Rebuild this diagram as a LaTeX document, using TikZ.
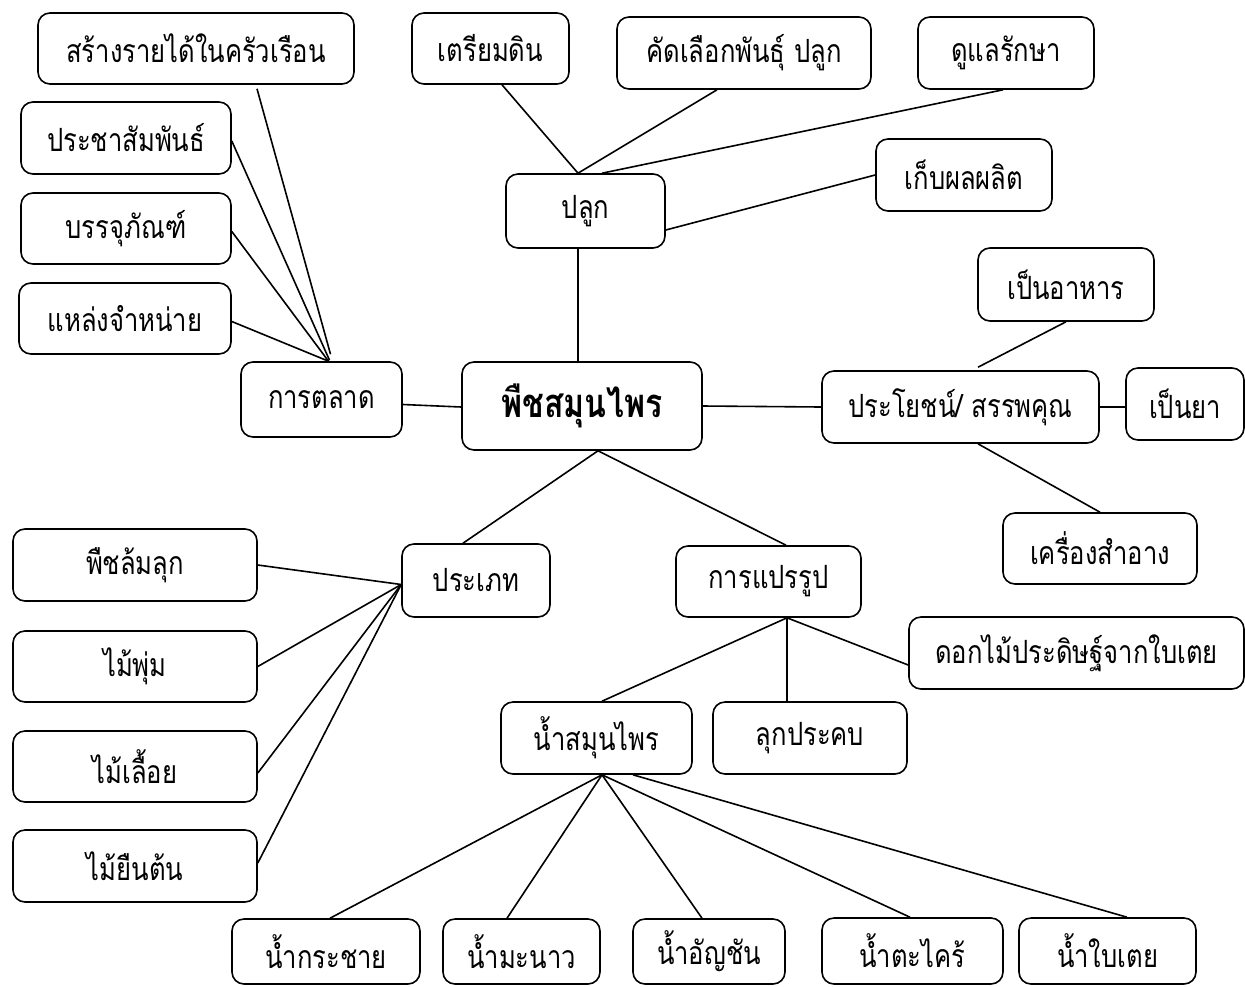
\documentclass[tikz,border=0pt]{standalone}
\usepackage{fontspec}
\newfontfamily\thaifont[Script=Thai,FakeStretch=0.8]{Loma}
\usetikzlibrary{calc}
\begin{document}
\begin{tikzpicture}[x=1pt,y=-1pt,
  box/.style={draw, line width=1.6pt, rounded corners=12pt, inner sep=0pt, align=center,
    font=\thaifont\fontsize{32}{36}\selectfont},
  ln/.style={line width=1.6pt}]
\useasboundingbox (0,0) rectangle (1245,986);
% nodes
\node[box, minimum width=316pt, minimum height=71pt] (income) at (196,48.5) {สร้างรายได้ในครัวเรือน};
\node[box, minimum width=210pt, minimum height=72pt] (pr) at (126,138) {ประชาสัมพันธ์};
\node[box, minimum width=210pt, minimum height=71pt] (pack) at (126,228.5) {บรรจุภัณฑ์};
\node[box, minimum width=212pt, minimum height=71pt] (outlet) at (125,318.5) {แหล่งจำหน่าย};
\node[box, minimum width=161pt, minimum height=75pt] (market) at (321.5,399.5) {การตลาด};
\node[box, minimum width=157pt, minimum height=71pt] (soil) at (490.5,48.5) {เตรียมดิน};
\node[box, minimum width=254pt, minimum height=72pt] (select) at (744,53) {คัดเลือกพันธุ์ ปลูก};
\node[box, minimum width=176pt, minimum height=72pt] (care) at (1006,53) {ดูแลรักษา};
\node[box, minimum width=159pt, minimum height=74pt] (plant) at (585.5,211) {ปลูก};
\node[box, minimum width=176pt, minimum height=72pt] (harvest) at (964,175) {เก็บผลผลิต};
\node[box, minimum width=240pt, minimum height=88pt, font=\thaifont\bfseries\fontsize{40}{44}\selectfont] (main) at (582,406) {พืชสมุนไพร};
\node[box, minimum width=176pt, minimum height=73pt] (food) at (1066,284.5) {เป็นอาหาร};
\node[box, minimum width=277pt, minimum height=72pt] (benefit) at (960.5,407) {ประโยชน์/ สรรพคุณ};
\node[box, minimum width=118pt, minimum height=72pt] (medicine) at (1185,404) {เป็นยา};
\node[box, minimum width=194pt, minimum height=71pt] (cosmetic) at (1100,548.5) {เครื่องสำอาง};
\node[box, minimum width=148pt, minimum height=73pt] (type) at (476,580.5) {ประเภท};
\node[box, minimum width=185pt, minimum height=71pt] (process) at (768.5,581.5) {การแปรรูป};
\node[box, minimum width=244pt, minimum height=72pt] (herb) at (135,565) {พืชล้มลุก};
\node[box, minimum width=244pt, minimum height=71pt] (shrub) at (135,666.5) {ไม้พุ่ม};
\node[box, minimum width=244pt, minimum height=71pt] (vine) at (135,766.5) {ไม้เลื้อย};
\node[box, minimum width=244pt, minimum height=72pt] (tree) at (135,866) {ไม้ยืนต้น};
\node[box, minimum width=335pt, minimum height=72pt] (flower) at (1076.5,653) {ดอกไม้ประดิษฐ์จากใบเตย};
\node[box, minimum width=191pt, minimum height=72pt] (juice) at (596.5,738) {น้ำสมุนไพร};
\node[box, minimum width=194pt, minimum height=72pt] (compress) at (810,738) {ลุกประคบ};
\node[box, minimum width=188pt, minimum height=65pt] (ja) at (326,951.5) {น้ำกระชาย};
\node[box, minimum width=157pt, minimum height=65pt] (jb) at (521.5,951.5) {น้ำมะนาว};
\node[box, minimum width=152pt, minimum height=65pt] (jc) at (709,951.5) {น้ำอัญชัน};
\node[box, minimum width=181pt, minimum height=66pt] (jd) at (912.5,951) {น้ำตะไคร้};
\node[box, minimum width=177pt, minimum height=66pt] (je) at (1107.5,951) {น้ำใบเตย};
% connectors: marketing
\draw[ln] ([xshift=61pt,yshift=-4pt]income.south) -- ([xshift=9pt,yshift=7pt]market.north);
\draw[ln] ([yshift=-3pt]pr.east) -- ([xshift=8pt,yshift=1pt]market.north);
\draw[ln] ([yshift=-3pt]pack.east) -- ([xshift=7pt]market.north);
\draw[ln] ([yshift=-3pt]outlet.east) -- ([xshift=7pt]market.north);
\draw[ln] ([yshift=-5pt]market.east) -- ([yshift=-1pt]main.west);
% planting
\draw[ln] ([xshift=11.5pt]soil.south) -- ([xshift=-7.5pt]plant.north);
\draw[ln] ([xshift=-27pt]select.south) -- ([xshift=-7.5pt]plant.north);
\draw[ln] ([xshift=-3pt]care.south) -- ([xshift=16.5pt]plant.north);
\draw[ln] ([yshift=-19pt]plant.east) -- (harvest.west);
\draw[ln] ([xshift=-7.5pt]plant.south) -- ([xshift=-4pt]main.north);
% benefits
\draw[ln] (main.east) -- (benefit.west);
\draw[ln] (food.south) -- ([xshift=17.5pt,yshift=3pt]benefit.north);
\draw[ln] (benefit.east) -- (benefit.east -| medicine.west);
\draw[ln] ([xshift=17.5pt]benefit.south) -- (cosmetic.north);
% types
\draw[ln] ([xshift=16pt]main.south) -- ([xshift=-13pt]type.north);
\draw[ln] (herb.east) -- ([yshift=-4pt]type.west);
\draw[ln] (shrub.east) -- ([yshift=-4pt]type.west);
\draw[ln] ([yshift=-6.5pt]vine.east) -- ([yshift=-4pt]type.west);
\draw[ln] ([yshift=3pt]tree.east) -- ([yshift=-4pt]type.west);
% processing
\draw[ln] ([xshift=16pt]main.south) -- ([xshift=17.5pt]process.north);
\draw[ln] ([xshift=18.5pt]process.south) -- ([xshift=5.5pt]juice.north);
\draw[ln] ([xshift=18.5pt]process.south) -- ([xshift=-23pt]compress.north);
\draw[ln] ([xshift=18.5pt]process.south) -- ([yshift=-12pt]flower.west);
% juices
\draw[ln] ([xshift=5.5pt]juice.south) -- ([xshift=4pt]ja.north);
\draw[ln] ([xshift=5.5pt]juice.south) -- ([xshift=-14.5pt]jb.north);
\draw[ln] ([xshift=5.5pt]juice.south) -- ([xshift=-7pt]jc.north);
\draw[ln] ([xshift=5.5pt]juice.south) -- ([xshift=-2.5pt]jd.north);
\draw[ln] ([xshift=36.5pt]juice.south) -- ([xshift=19.5pt]je.north);
\end{tikzpicture}
\end{document}
